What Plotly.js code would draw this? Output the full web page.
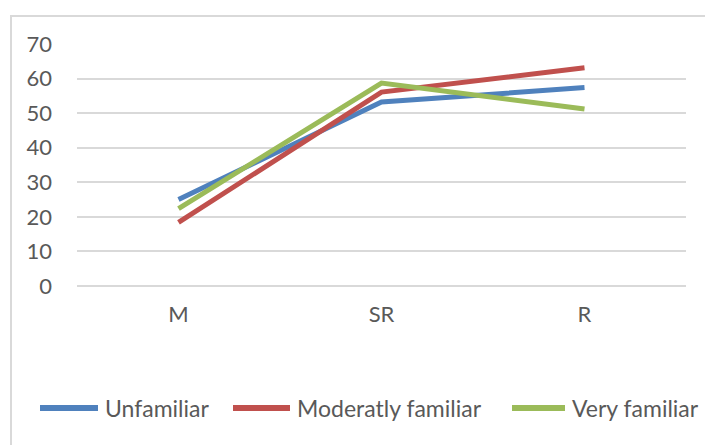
<!DOCTYPE html>
<html>
<head>
<meta charset="utf-8">
<script src="https://cdn.plot.ly/plotly-3.0.1.min.js"></script>
<style>
html,body{margin:0;padding:0;background:#fff;}
#wrap{position:relative;width:705px;height:445px;overflow:hidden;}
#chart{position:absolute;left:0;top:0;width:705px;height:445px;}
#frame{position:absolute;left:10px;top:15px;width:720px;height:460px;border:2px solid #d9d9d9;box-sizing:border-box;pointer-events:none;}
</style>
</head>
<body>
<div id="wrap"><div id="chart"></div><div id="frame"></div></div>
<script>
const categories = ["M", "SR", "R"];
const unfamiliar = [25, 53.2, 57.4];
const moderately = [18.4, 56.1, 63.1];
const veryFamiliar = [22.4, 58.7, 51.2];
const seriesNames = ["Unfamiliar", "Moderatly familiar", "Very familiar"];
const yTicks = [0, 10, 20, 30, 40, 50, 60, 70];

const colors = ["#4F81BD", "#C0504D", "#9BBB59"];
const allData = [unfamiliar, moderately, veryFamiliar];
const traces = allData.map((vals, i) => ({
  type: "scatter",
  mode: "lines",
  x: categories,
  y: vals,
  name: seriesNames[i],
  line: {color: colors[i], width: 5},
  showlegend: false
}));

// custom legend (paper coords): plot area is x 77..686, y 44..286 in pixels
const W = 705, H = 445, L = 77, R = 686, T = 44, B = 286;
const px = x => (x - L) / (R - L);
const py = y => (B - y) / (B - T);
const legendLines = [[40, 98, 103], [233, 290, 295], [512, 565, 570]];
const font = {family: "Lato, 'Open Sans', sans-serif", color: "#595959"};
const shapes = [], annotations = [];
legendLines.forEach((d, i) => {
  shapes.push({type: "line", xref: "paper", yref: "paper",
    x0: px(d[0]), x1: px(d[1]), y0: py(408), y1: py(408),
    line: {color: colors[i], width: 6}});
  annotations.push({xref: "paper", yref: "paper", x: px(d[2]), y: py(408),
    xanchor: "left", yanchor: "middle", showarrow: false, text: seriesNames[i],
    font: Object.assign({}, font, {size: 23})});
});

const layout = {
  width: W, height: H,
  margin: {l: L, r: W - R, t: T, b: H - B},
  paper_bgcolor: "#fff", plot_bgcolor: "#fff",
  showlegend: false,
  shapes: shapes,
  annotations: annotations,
  xaxis: {type: "category", range: [-0.5, 2.5], showgrid: false, zeroline: false,
    showline: false, ticks: "", tickfont: Object.assign({}, font, {size: 22}),
    ticklabelstandoff: 13, fixedrange: true, automargin: false},
  yaxis: {range: [0, 70], tickvals: yTicks, showgrid: true, gridcolor: "#d9d9d9", gridwidth: 2,
    zeroline: true, zerolinecolor: "#d9d9d9", zerolinewidth: 2, showline: false, ticks: "",
    tickfont: Object.assign({}, font, {size: 22}),
    ticklabelstandoff: 24, fixedrange: true, automargin: false},
  font: font
};
Plotly.newPlot("chart", traces, layout, {staticPlot: true});
</script>
</body>
</html>
